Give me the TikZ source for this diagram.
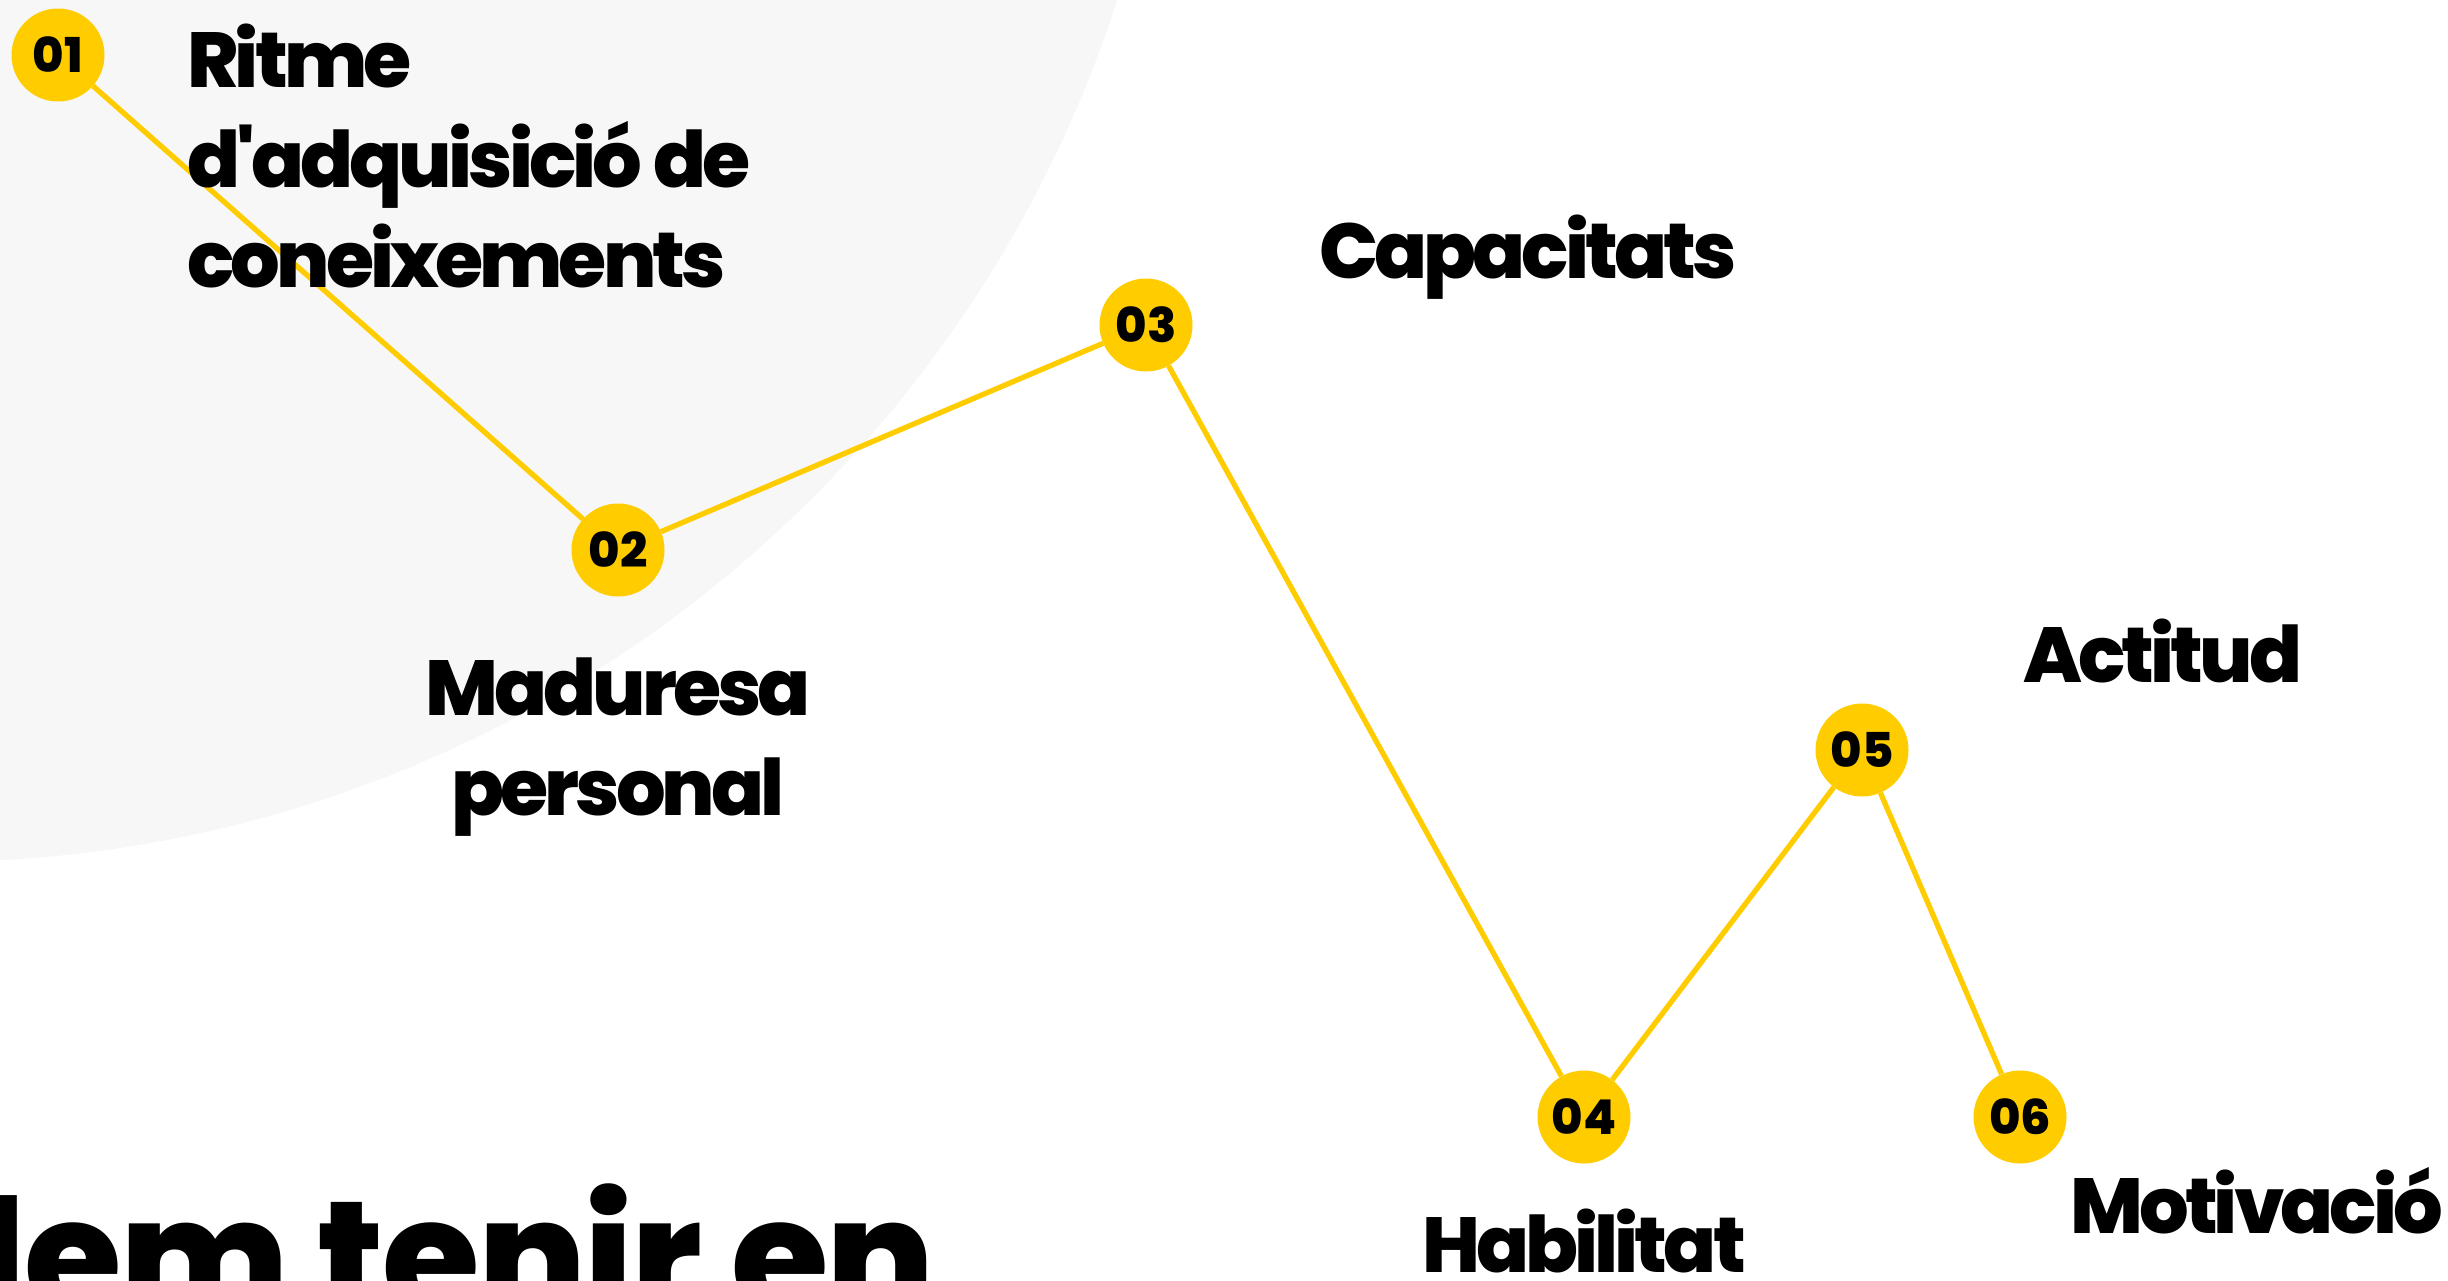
\documentclass[tikz,border=0pt]{standalone}
\usepackage{fontspec}
\setmainfont{Poppins}[BoldFont={Poppins ExtraBold}]
\newfontfamily\labfont{Poppins ExtraBold}[LetterSpace=-5, Ligatures=TeXOff]
\newfontfamily\bigfont{Poppins ExtraBold}[LetterSpace=-1]
\newfontfamily\numfont{Poppins ExtraBold}
\definecolor{ybrand}{HTML}{FFCC00}
\definecolor{bgray}{HTML}{F7F7F7}
\begin{document}
\begin{tikzpicture}[x=1pt,y=-1pt,
  dot/.style={circle, fill=ybrand, minimum size=93pt, inner sep=0pt, font=\numfont\fontsize{48}{48}\selectfont},
  lab/.style={font=\labfont\fontsize{78}{100}\selectfont, inner sep=0pt},
  big/.style={font=\bigfont\fontsize{158}{160}\selectfont, inner sep=0pt},
  link/.style={draw=ybrand, line width=5.3pt}]
\useasboundingbox (0,0) rectangle (2448,1280);
\clip (0,0) rectangle (2448,1280);
\fill[bgray] (-67,-382) circle (1244);
\node[dot] (n1) at (58,55) {01};
\node[dot] (n2) at (618,550) {02};
\node[dot] (n3) at (1146,325) {03};
\node[dot] (n4) at (1584,1117) {04};
\node[dot] (n5) at (1862,750) {05};
\node[dot] (n6) at (2020,1117) {06};
\draw[link] (n1) -- (n2);
\draw[link] (n2) -- (n3);
\draw[link] (n3) -- (n4);
\draw[link] (n4) -- (n5);
\draw[link] (n5) -- (n6);
\node[lab, anchor=base west, align=left] (t1) at (187,287) {Ritme\\d'adquisició de\\coneixements};
\node[lab, anchor=base, align=center] (t2) at (618,815) {Maduresa\\personal};
\node[lab, anchor=base west] (t3) at (1319,278) {Capacitats};
\node[lab, anchor=base] (t4) at (1584,1272) {Habilitat};
\node[lab, anchor=base west] (t5) at (2023,682) {Actitud};
\node[lab, anchor=base west] (t6) at (2070,1233) {Motivació};
\node[big, anchor=base west] (tb) at (-23,1312) {lem tenir en};
\end{tikzpicture}
\end{document}
